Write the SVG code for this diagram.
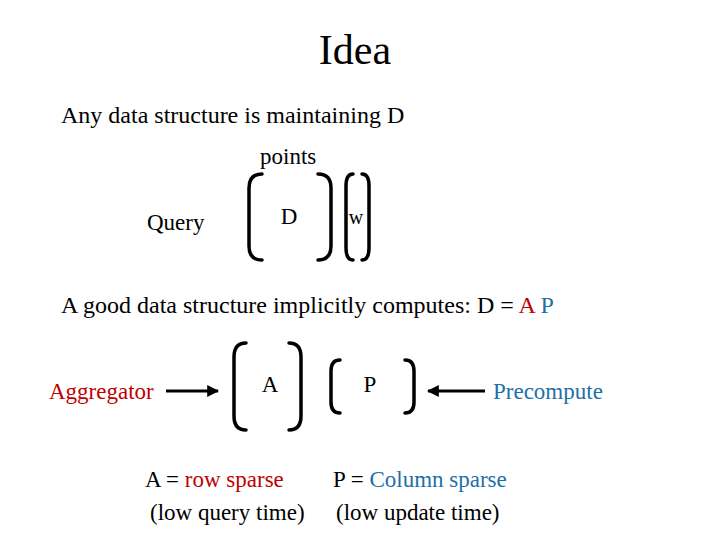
<svg xmlns="http://www.w3.org/2000/svg" width="720" height="540" viewBox="0 0 720 540">
<defs>
<style>
text{font-family:"Liberation Serif","Times New Roman",serif;fill:#000}
.r{fill:#c00000}.b{fill:#1f6fa8}
.br{fill:none;stroke:#000;stroke-width:3.5;stroke-linecap:round}
.ar{stroke:#000;stroke-width:3;fill:none}
</style>
<marker id="ah" viewBox="0 0 10 10" refX="9" refY="5" markerWidth="4" markerHeight="4" orient="auto"><path d="M0,0L10,5L0,10z" fill="#000"/></marker>
</defs>
<rect width="720" height="540" fill="#fff"/>
<text x="355" y="64" font-size="42" text-anchor="middle">Idea</text>
<text x="61" y="123" font-size="24">Any data structure is maintaining D</text>
<text x="260" y="164" font-size="23">points</text>
<g id="query"><text x="147" y="230" font-size="23">Query</text></g>
<g id="D">
<path class="br" d="M262,174 Q249,174 249,188 V246 Q249,260 262,260"/>
<path class="br" d="M318,174 Q331,174 331,188 V246 Q331,260 318,260"/>
<text x="289" y="224" font-size="23" text-anchor="middle">D</text>
</g>
<g id="w">
<path class="br" d="M353,174 Q346,174 346,186 V248 Q346,260 353,260"/>
<path class="br" d="M362,174 Q369,174 369,186 V248 Q369,260 362,260"/>
<text x="356" y="224" font-size="20" text-anchor="middle">w</text>
</g>
<text x="61" y="313" font-size="24">A good data structure implicitly computes:  D = <tspan class="r">A</tspan> <tspan class="b">P</tspan></text>
<g id="aggregator"><text x="49" y="399" font-size="23" class="r">Aggregator</text></g>
<g id="A">
<path class="br" d="M246,343 Q234,343 234,357 V416 Q234,430 246,430"/>
<path class="br" d="M289,343 Q301,343 301,357 V416 Q301,430 289,430"/>
<text x="270" y="392" font-size="23" text-anchor="middle">A</text>
</g>
<g id="P">
<path class="br" d="M340,360 Q331,360 331,371 V402 Q331,413 340,413"/>
<path class="br" d="M405,360 Q414,360 414,371 V402 Q414,413 405,413"/>
<text x="370" y="392" font-size="23" text-anchor="middle">P</text>
</g>
<g id="precompute"><text x="493" y="399" font-size="23" class="b">Precompute</text></g>
<g id="connectors">
<line class="ar" x1="166" y1="391" x2="218" y2="391" marker-end="url(#ah)"/>
<line class="ar" x1="485" y1="391" x2="428" y2="391" marker-end="url(#ah)"/>
</g>
<text x="145" y="487" font-size="23">A = <tspan class="r">row sparse</tspan></text>
<text x="150" y="520" font-size="23">(low query time)</text>
<text x="333" y="487" font-size="23">P = <tspan class="b">Column sparse</tspan></text>
<text x="336" y="520" font-size="23">(low update time)</text>
</svg>
